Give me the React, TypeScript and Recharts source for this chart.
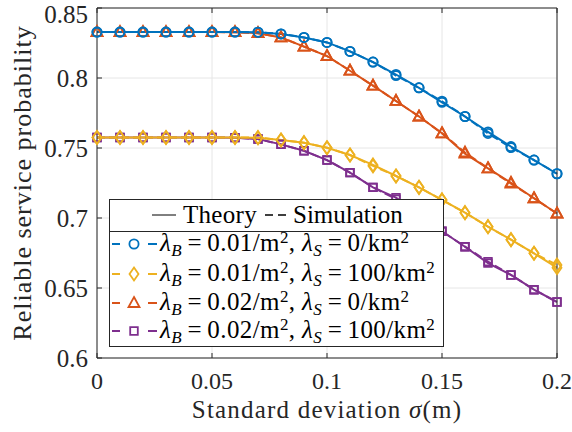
import React from "react";
import { LineChart, Line, XAxis, YAxis, CartesianGrid } from "recharts";

// sigma (m)
const sigma = [0, 0.01, 0.02, 0.03, 0.04, 0.05, 0.06, 0.07, 0.08, 0.09, 0.1, 0.11, 0.12, 0.13, 0.14, 0.15, 0.16, 0.17, 0.18, 0.19, 0.2];

// lambda_B = 0.01, lambda_S = 0
const blueTheory = [0.8328, 0.8328, 0.8328, 0.8328, 0.8328, 0.8328, 0.8328, 0.8327, 0.8315, 0.829, 0.8254, 0.819, 0.8114, 0.8025, 0.793, 0.7826, 0.7725, 0.7615, 0.751, 0.7414, 0.7316];
const blueSim = [0.8328, 0.8328, 0.8328, 0.8328, 0.8328, 0.8328, 0.8328, 0.8327, 0.8315, 0.829, 0.8254, 0.819, 0.8114, 0.8017, 0.793, 0.7834, 0.7725, 0.7604, 0.7503, 0.7414, 0.7316];
// lambda_B = 0.01, lambda_S = 100
const yellowTheory = [0.7575, 0.7575, 0.7575, 0.7575, 0.7575, 0.7575, 0.7575, 0.7574, 0.7557, 0.7538, 0.7502, 0.745, 0.7379, 0.73, 0.7219, 0.7129, 0.7038, 0.6938, 0.6845, 0.6748, 0.6645];
const yellowSim = [0.7575, 0.7575, 0.7575, 0.7575, 0.7575, 0.7575, 0.7575, 0.7574, 0.7557, 0.7538, 0.7502, 0.745, 0.7372, 0.73, 0.7219, 0.7129, 0.7038, 0.6938, 0.6845, 0.6748, 0.6665];
// lambda_B = 0.02, lambda_S = 0
const orangeTheory = [0.8328, 0.8328, 0.8328, 0.8328, 0.8328, 0.8328, 0.8327, 0.832, 0.829, 0.8224, 0.8157, 0.8052, 0.7945, 0.7836, 0.7725, 0.7605, 0.746, 0.7355, 0.7252, 0.7141, 0.7032];
const orangeSim = [0.8328, 0.8328, 0.8328, 0.8328, 0.8328, 0.8328, 0.8327, 0.832, 0.829, 0.8224, 0.8157, 0.8052, 0.7945, 0.7836, 0.7725, 0.7605, 0.7468, 0.7355, 0.7245, 0.7141, 0.7032];
// lambda_B = 0.02, lambda_S = 100
const purpleTheory = [0.7575, 0.7575, 0.7575, 0.7575, 0.7575, 0.7575, 0.7574, 0.7564, 0.7526, 0.748, 0.7414, 0.7324, 0.7219, 0.7145, 0.703, 0.6905, 0.6795, 0.6678, 0.6593, 0.6488, 0.64];
const purpleSim = [0.7575, 0.7575, 0.7575, 0.7575, 0.7575, 0.7575, 0.7574, 0.7564, 0.7526, 0.748, 0.7414, 0.7324, 0.7219, 0.7135, 0.703, 0.6905, 0.6795, 0.6688, 0.6593, 0.6488, 0.64];

const xTicks = [0, 0.05, 0.1, 0.15, 0.2];
const yTicks = [0.6, 0.65, 0.7, 0.75, 0.8, 0.85];

const data = sigma.map((s, i) => ({
  x: s,
  bT: blueTheory[i],
  bS: blueSim[i],
  yT: yellowTheory[i],
  yS: yellowSim[i],
  oT: orangeTheory[i],
  oS: orangeSim[i],
  pT: purpleTheory[i],
  pS: purpleSim[i],
}));

const BLUE = "#0072BD";
const YELLOW = "#EDB120";
const ORANGE = "#D95319";
const PURPLE = "#7E2F8E";
const AXIS = "#262626";
const FONT = "'Liberation Serif', 'DejaVu Serif', 'Liberation Sans', sans-serif";

type Shape = "circle" | "diamond" | "triangle" | "square";

function markerPath(shape: Shape, cx: number, cy: number) {
  switch (shape) {
    case "circle":
      return null;
    case "diamond":
      return `M${cx},${cy - 6.5}L${cx + 4.5},${cy}L${cx},${cy + 6.5}L${cx - 4.5},${cy}Z`;
    case "triangle":
      return `M${cx},${cy - 6}L${cx + 5.5},${cy + 4}L${cx - 5.5},${cy + 4}Z`;
    case "square":
      return `M${cx - 3.8},${cy - 3.8}h7.6v7.6h-7.6Z`;
  }
}

function Marker({ shape, color, cx, cy }: { shape: Shape; color: string; cx: number; cy: number }) {
  if (cx == null || cy == null) return null;
  if (shape === "circle") {
    return <circle cx={cx} cy={cy} r={4.6} fill="none" stroke={color} strokeWidth={1.8} />;
  }
  return <path d={markerPath(shape, cx, cy) as string} fill="none" stroke={color} strokeWidth={1.8} strokeLinejoin="miter" />;
}

const dotFor = (shape: Shape, color: string) => (p: any) => (
  <Marker key={`${shape}-${p.index}`} shape={shape} color={color} cx={p.cx} cy={p.cy} />
);

const EmptyTick = () => <g />;

function XTitle(props: any) {
  const vb = props.viewBox || {};
  return (
    <text x={vb.x + vb.width / 2} y={vb.y + 60} textAnchor="middle" style={{ fontFamily: FONT, letterSpacing: 1.2 }} fontSize={25} fill={AXIS}>
      Standard deviation <tspan fontStyle="italic">σ</tspan>(m)
    </text>
  );
}

function YTitle(props: any) {
  const vb = props.viewBox || {};
  const cy = vb.y + vb.height / 2;
  return (
    <text transform={`translate(31,${cy}) rotate(-90)`} textAnchor="middle" style={{ fontFamily: FONT, letterSpacing: 1 }} fontSize={26} fill={AXIS}>
      Reliable service probability
    </text>
  );
}

const entries = [
  { color: BLUE, shape: "circle" as Shape, b: "0.01", s: "0" },
  { color: YELLOW, shape: "diamond" as Shape, b: "0.01", s: "100" },
  { color: ORANGE, shape: "triangle" as Shape, b: "0.02", s: "0" },
  { color: PURPLE, shape: "square" as Shape, b: "0.02", s: "100" },
];
const rowCenters = [44, 74, 103, 131];

const sub: React.CSSProperties = { fontSize: "0.68em", fontStyle: "italic", position: "relative", top: "0.3em" };
const sup: React.CSSProperties = { fontSize: "0.68em", position: "relative", top: "-0.45em" };

function LegendBox() {
  const textBase: React.CSSProperties = { position: "absolute", whiteSpace: "nowrap", lineHeight: "28px", height: 28 };
  return (
    <div
      style={{
        position: "absolute",
        left: 109,
        top: 199,
        boxSizing: "border-box",
        width: 335,
        height: 148,
        border: `1px solid ${AXIS}`,
        background: "#fff",
        fontFamily: FONT,
        fontSize: 25,
        letterSpacing: 0.4,
        color: "#000",
      }}
    >
      <svg width={333} height={146} style={{ position: "absolute", left: 0, top: 0 }}>
        <line x1={42} x2={66} y1={15} y2={15} stroke="#000" strokeWidth={1} />
        <line x1={155} x2={176} y1={15} y2={15} stroke="#000" strokeWidth={1.5} strokeDasharray="8 5" />
        <line x1={0} x2={333} y1={31.5} y2={31.5} stroke={AXIS} strokeWidth={1} />
        {entries.map((e, i) => (
          <g key={e.color}>
            <line x1={2} x2={10} y1={rowCenters[i]} y2={rowCenters[i]} stroke={e.color} strokeWidth={2} />
            <line x1={38} x2={47} y1={rowCenters[i]} y2={rowCenters[i]} stroke={e.color} strokeWidth={2} />
            <Marker shape={e.shape} color={e.color} cx={24} cy={rowCenters[i]} />
          </g>
        ))}
      </svg>
      <span style={{ ...textBase, left: 73, top: 1, letterSpacing: 0.3 }}>Theory</span>
      <span style={{ ...textBase, left: 183, top: 1, letterSpacing: 0 }}>Simulation</span>
      {entries.map((e, i) => (
        <span key={e.color} style={{ ...textBase, left: 50, top: rowCenters[i] - 15 }}>
          <i>λ</i>
          <span style={sub}>B</span>
          {`\u2009=\u2009${e.b}/m`}
          <span style={sup}>2</span>
          {", "}
          <i>λ</i>
          <span style={sub}>S</span>
          {`\u2009=\u2009${e.s}/km`}
          <span style={sup}>2</span>
        </span>
      ))}
    </div>
  );
}

export default function App() {
  const xTickStyle = { fontSize: 24, fill: AXIS, style: { fontFamily: FONT } };
  const yTickStyle = { fontSize: 25, fill: AXIS, style: { fontFamily: FONT } };
  return (
    <div style={{ position: "absolute", left: 0, top: 0, width: 572, height: 432, background: "#fff", fontFamily: FONT }}>
      <LineChart width={572} height={432} data={data} margin={{ top: 7, right: 14, bottom: 0, left: 0 }}>
        <CartesianGrid stroke="#e6e6e6" strokeWidth={1} />
        <XAxis
          dataKey="x"
          type="number"
          domain={[0, 0.2]}
          ticks={xTicks}
          height={74}
          tickSize={-5}
          tickMargin={19}
          stroke={AXIS}
          tick={xTickStyle}
          label={<XTitle />}
        />
        <XAxis
          xAxisId="top"
          orientation="top"
          dataKey="x"
          type="number"
          domain={[0, 0.2]}
          ticks={xTicks}
          height={1}
          tickSize={-5}
          stroke={AXIS}
          tick={EmptyTick}
        />
        <YAxis
          type="number"
          domain={[0.6, 0.85]}
          ticks={yTicks}
          width={97}
          tickSize={-5}
          tickMargin={14}
          stroke={AXIS}
          tick={yTickStyle}
          label={<YTitle />}
        />
        <YAxis
          yAxisId="right"
          orientation="right"
          type="number"
          domain={[0.6, 0.85]}
          ticks={yTicks}
          width={1}
          tickSize={-5}
          stroke={AXIS}
          tick={EmptyTick}
        />
        <Line dataKey="pT" stroke={PURPLE} strokeWidth={2} dot={dotFor("square", PURPLE)} isAnimationActive={false} />
        <Line dataKey="pS" stroke={PURPLE} strokeWidth={2} strokeDasharray="8 4" dot={dotFor("square", PURPLE)} isAnimationActive={false} />
        <Line dataKey="oT" stroke={ORANGE} strokeWidth={2} dot={dotFor("triangle", ORANGE)} isAnimationActive={false} />
        <Line dataKey="oS" stroke={ORANGE} strokeWidth={2} strokeDasharray="8 4" dot={dotFor("triangle", ORANGE)} isAnimationActive={false} />
        <Line dataKey="yT" stroke={YELLOW} strokeWidth={2} dot={dotFor("diamond", YELLOW)} isAnimationActive={false} />
        <Line dataKey="yS" stroke={YELLOW} strokeWidth={2} strokeDasharray="8 4" dot={dotFor("diamond", YELLOW)} isAnimationActive={false} />
        <Line dataKey="bT" stroke={BLUE} strokeWidth={2} dot={dotFor("circle", BLUE)} isAnimationActive={false} />
        <Line dataKey="bS" stroke={BLUE} strokeWidth={2} strokeDasharray="8 4" dot={dotFor("circle", BLUE)} isAnimationActive={false} />
      </LineChart>
      <LegendBox />
    </div>
  );
}
